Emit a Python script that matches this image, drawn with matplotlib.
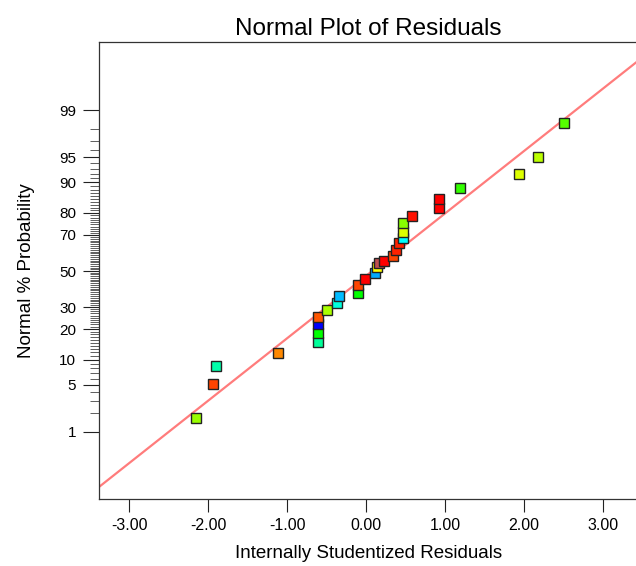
import numpy as np
import matplotlib
matplotlib.use("Agg")
import matplotlib.pyplot as plt
from statistics import NormalDist

plt.rcParams['font.family'] = ['Liberation Sans', 'DejaVu Sans']

# residuals (x) and normal % probability (y)
resid = [-2.147, -1.937, -1.906, -1.113, -0.606, -0.606, -0.606, -0.606,
         -0.492, -0.374, -0.344, -0.100, -0.100, -0.015, 0.107, 0.133,
         0.162, 0.225, 0.343, 0.373, 0.415, 0.470, 0.470, 0.470,
         0.584, 0.922, 0.922, 1.184, 1.932, 2.176, 2.502]
prob = [1.68, 5.08, 8.49, 11.8, 15.2, 18.6, 22.1, 25.5,
        28.6, 32.0, 35.9, 37.7, 42.0, 45.4, 48.7, 52.1,
        54.4, 55.6, 58.6, 61.9, 65.5, 68.2, 71.5, 75.5,
        78.8, 82.0, 85.2, 88.6, 91.9, 95.1, 98.4]
colors = ['#99FF00', '#FF4400', '#00FFAA', '#FF8800', '#00FF99', '#00FF00', '#0000FF', '#FF5500',
          '#AAFF00', '#00FFDD', '#00BBFF', '#00FF00', '#FF4400', '#FF0000', '#00AAFF', '#FFFF00',
          '#C05050', '#FF0000', '#FF4400', '#FF2200', '#FF2200', '#00FFFF', '#DDFF00', '#88FF00',
          '#FF1100', '#FF0000', '#FF0000', '#33FF00', '#DDFF00', '#BBFF00', '#55FF00']

# fitted normal line: z = slope * x + icpt
slope = 0.903
icpt = -0.069

major_p = [1, 5, 10, 20, 30, 50, 70, 80, 90, 95, 99]
xticks = [-3, -2, -1, 0, 1, 2, 3]

nd = NormalDist()
def z(p):
    return np.array([nd.inv_cdf(v / 100.0) for v in np.atleast_1d(p)])

fig = plt.figure(figsize=(6.36, 5.66), dpi=100)
ax = fig.add_axes([99/636, 67/566, 1 - 99/636 + 0.002, 457/566])

xl = np.array([-3.40, 3.45])
ax.plot(xl, slope * xl + icpt, color='#FF7C7C', lw=1.6, zorder=2)

for xi, yi, c in zip(resid, z(prob), colors):
    ax.plot(xi, yi, marker='s', ms=7.8, mfc=c, mec='#222222', mew=1.0,
            linestyle='none', zorder=3)

ax.set_xlim(-3.38, 3.43)
ax.set_ylim(-3.295, 3.31)

ax.set_xticks(xticks)
ax.set_xticklabels(['%.2f' % v for v in xticks], fontsize=11.5)
ax.set_yticks(z(major_p))
ax.set_yticklabels([str(p) for p in major_p], fontsize=11)
minor_p = [p for p in range(1, 100) if p not in major_p]
ax.set_yticks(z(minor_p), minor=True)

ax.tick_params(axis='x', direction='out', length=9, width=0.8, pad=5, colors='#222222')
ax.tick_params(axis='y', which='major', direction='out', length=11.5, width=0.8, pad=5, colors='#222222')
ax.tick_params(axis='y', which='minor', direction='out', length=6.5, width=0.6, color='#444444')
for lab in ax.get_xticklabels() + ax.get_yticklabels():
    lab.set_color('black')

ax.spines['right'].set_visible(False)
for s in ['left', 'top', 'bottom']:
    ax.spines[s].set_color('#333333')
    ax.spines[s].set_linewidth(0.9)

ax.set_xlabel('Internally Studentized Residuals', fontsize=13.5, labelpad=8)
ax.set_ylabel('Normal % Probability', fontsize=13.5, labelpad=17.5)
ax.set_title('Normal Plot of Residuals', fontsize=17.5, pad=5)

fig.savefig('out.png', dpi=100)
